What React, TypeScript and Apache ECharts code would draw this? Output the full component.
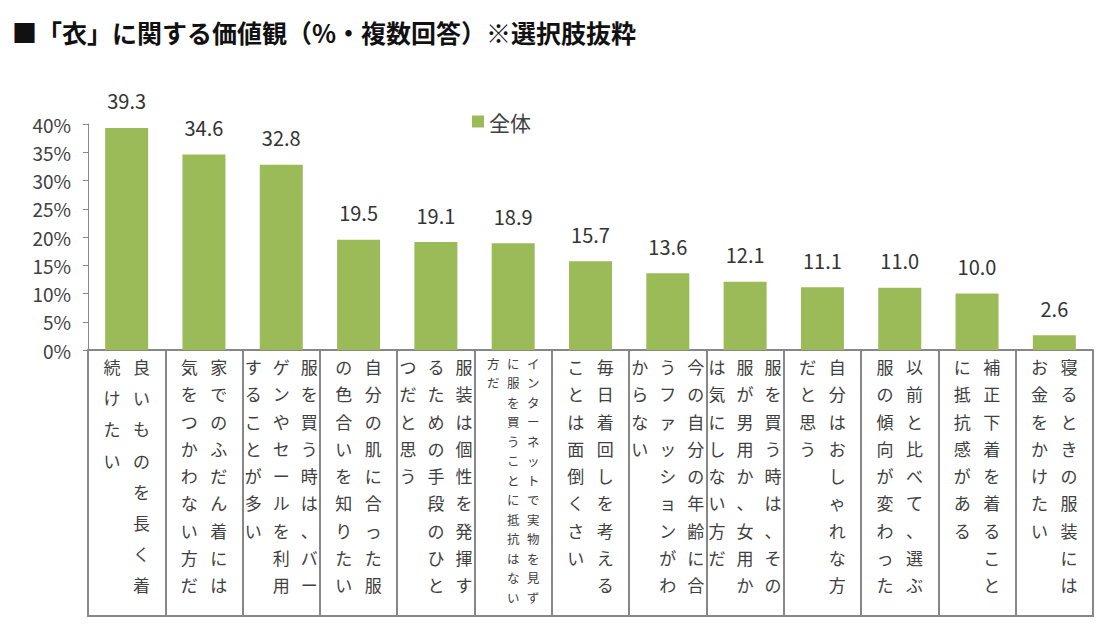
import React, { useEffect, useRef } from "react";
import * as echarts from "echarts";

const labelColumns: string[][] = [
  ["良いものを長く着", "続けたい"],
  ["家でのふだん着には", "気をつかわない方だ"],
  ["服を買う時は、バー", "ゲンやセールを利用", "することが多い"],
  ["自分の肌に合った服", "の色合いを知りたい"],
  ["服装は個性を発揮す", "るための手段のひと", "つだと思う"],
  ["インターネットで実物を見ず", "に服を買うことに抵抗はない", "方だ"],
  ["毎日着回しを考える", "ことは面倒くさい"],
  ["今の自分の年齢に合", "うファッションがわ", "からない"],
  ["服を買う時は、その", "服が男用か、女用か", "は気にしない方だ"],
  ["自分はおしゃれな方", "だと思う"],
  ["以前と比べて、選ぶ", "服の傾向が変わった"],
  ["補正下着を着ること", "に抵抗感がある"],
  ["寝るときの服装には", "お金をかけたい"],
];
const categories: string[] = labelColumns.map((c) => c.join(""));
const values: number[] = [39.3, 34.6, 32.8, 19.5, 19.1, 18.9, 15.7, 13.6, 12.1, 11.1, 11.0, 10.0, 2.6];
const seriesName = "全体";
const titleText = "■「衣」に関する価値観（%・複数回答）※選択肢抜粋";

const FONT = "'Noto Sans CJK JP', 'Noto Sans', sans-serif";
const GREEN = "#9bbb59";
const GRAY = "#878787";
const TEXT = "#404040";

export default function App() {
  const ref = useRef<HTMLDivElement>(null);
  useEffect(() => {
    document.body.style.margin = "0";
    if (!ref.current) return;
    const chart = echarts.init(ref.current, undefined, { renderer: "svg" });
    const boxDepth = 266;
    chart.setOption({
      animation: false,
      textStyle: { fontFamily: FONT },
      title: {
        text: titleText,
        left: 7,
        top: 14,
        textStyle: { fontSize: 25, fontWeight: "bold", color: "#111", fontFamily: FONT },
      },
      legend: {
        data: [seriesName],
        left: 467,
        top: 106,
        icon: "rect",
        itemWidth: 12,
        itemHeight: 12,
        itemGap: 7,
        textStyle: { fontSize: 21, color: TEXT, fontFamily: FONT },
      },
      grid: { left: 88, right: 20, top: 124, bottom: 284, containLabel: false },
      xAxis: {
        type: "category",
        data: categories,
        axisLine: { lineStyle: { color: GRAY, width: 2 } },
        axisTick: { show: true, interval: 0, length: boxDepth, lineStyle: { color: GRAY, width: 2 } },
        axisLabel: { show: false, interval: 0 },
      },
      yAxis: {
        type: "value",
        min: 0,
        max: 40,
        interval: 5,
        axisLine: { show: true, lineStyle: { color: GRAY, width: 1 } },
        axisTick: { show: true, length: 5, lineStyle: { color: GRAY } },
        splitLine: { show: false },
        axisLabel: { formatter: "{value}%", fontSize: 19, color: TEXT, margin: 17, fontFamily: FONT },
      },
      series: [
        {
          name: seriesName,
          type: "bar",
          data: values,
          barWidth: 43,
          itemStyle: { color: GREEN },
          label: {
            show: true,
            position: "top",
            distance: 17,
            fontSize: 20,
            color: "#333",
            fontFamily: FONT,
            formatter: (p: any) => Number(p.value).toFixed(1),
          },
        },
      ],
    });

    const c0 = chart.convertToPixel({ xAxisIndex: 0 }, 0) as number;
    const c1 = chart.convertToPixel({ xAxisIndex: 0 }, 1) as number;
    const band = c1 - c0;
    const axisY = chart.convertToPixel({ yAxisIndex: 0 }, 0) as number;
    const left = c0 - band / 2;
    const right = left + band * categories.length;

    const elements: any[] = [
      {
        type: "line",
        shape: { x1: left - 1, y1: axisY + boxDepth, x2: right + 1, y2: axisY + boxDepth },
        style: { stroke: GRAY, lineWidth: 2 },
      },
    ];
    labelColumns.forEach((cols, i) => {
      const cx = chart.convertToPixel({ xAxisIndex: 0 }, i) as number;
      const maxLen = Math.max(...cols.map((c) => c.length));
      const small = maxLen > 10;
      const fontSize = small ? 12.5 : 17;
      const lineHeight = small ? 19.5 : 218 / (maxLen - 1);
      const firstCenter = small ? axisY + 13 : axisY + 16.7;
      const spacing = small ? 20 : cols.length > 2 ? 28 : 29.5;
      const n = cols.length;
      cols.forEach((col, j) => {
        elements.push({
          type: "text",
          x: cx + ((n - 1) / 2 - j) * spacing,
          y: firstCenter - lineHeight / 2,
          style: {
            text: col.split("").join("\n"),
            fontSize,
            lineHeight,
            fill: TEXT,
            align: "center",
            verticalAlign: "top",
            fontFamily: FONT,
          },
        });
      });
    });
    chart.setOption({ graphic: { elements } });

    return () => chart.dispose();
  }, []);
  return <div ref={ref} style={{ width: 1113, height: 634 }} />;
}
